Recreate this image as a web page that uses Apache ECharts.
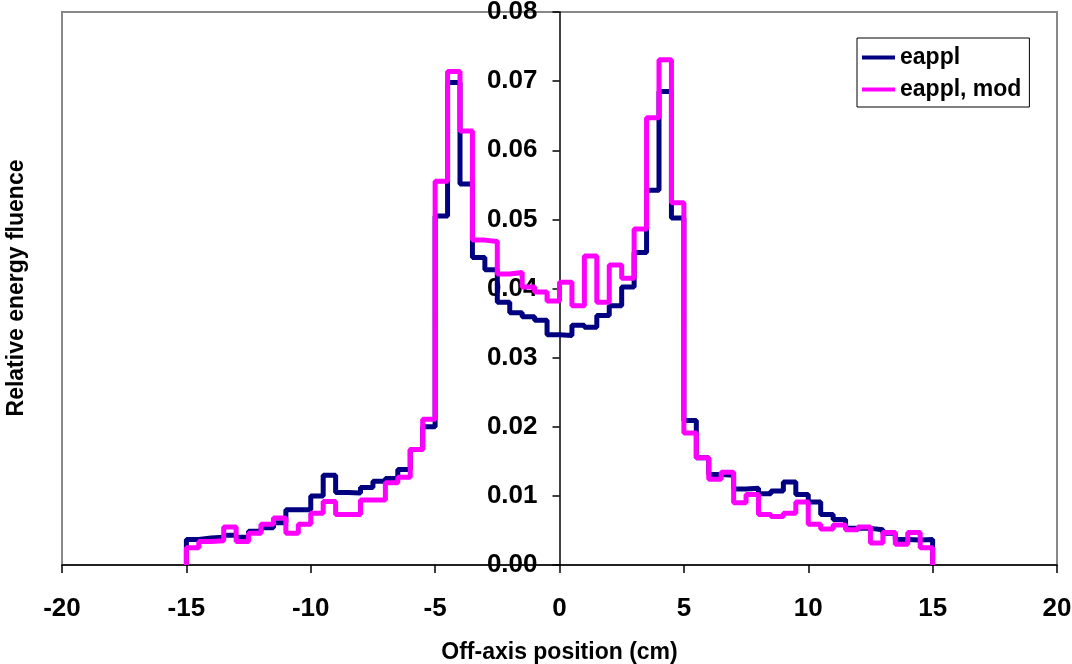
<!DOCTYPE html>
<html>
<head>
<meta charset="utf-8">
<script src="https://cdn.jsdelivr.net/npm/echarts@6/dist/echarts.min.js"></script>
<style>
  html, body { margin: 0; padding: 0; background: #fff; }
  #chart { width: 1072px; height: 664px; }
</style>
</head>
<body>
<div id="chart"></div>
<script>
// Bin edges (cm)
const binEdges = [-15, -14.5, -14, -13.5, -13, -12.5, -12, -11.5, -11, -10.5,
  -10, -9.5, -9, -8.5, -8, -7.5, -7, -6.5, -6, -5.5,
  -5, -4.5, -4, -3.5, -3, -2.5, -2, -1.5, -1, -0.5,
  0, 0.5, 1, 1.5, 2, 2.5, 3, 3.5, 4, 4.5,
  5, 5.5, 6, 6.5, 7, 7.5, 8, 8.5, 9, 9.5,
  10, 10.5, 11, 11.5, 12, 12.5, 13, 13.5, 14, 14.5, 15];

// Relative energy fluence per bin
const eappl = [0.0037, 0.0039, 0.0040, 0.0043, 0.0040, 0.0049, 0.0054, 0.0061, 0.0080, 0.0080,
  0.0100, 0.0130, 0.0105, 0.0104, 0.0112, 0.0121, 0.0125, 0.0138, 0.0167, 0.0200,
  0.0505, 0.0698, 0.0551, 0.0445, 0.0427, 0.0380, 0.0365, 0.0359, 0.0354, 0.0333,
  0.0332, 0.0347, 0.0344, 0.0361, 0.0375, 0.0402, 0.0452, 0.0542, 0.0685, 0.0502,
  0.0209, 0.0155, 0.0131, 0.0130, 0.0110, 0.0111, 0.0103, 0.0107, 0.0120, 0.0102,
  0.0091, 0.0073, 0.0066, 0.0053, 0.0053, 0.0051, 0.0046, 0.0037, 0.0036, 0.0037];

const eapplMod = [0.0025, 0.0034, 0.0035, 0.0055, 0.0034, 0.0046, 0.0059, 0.0068, 0.0046, 0.0059,
  0.0075, 0.0092, 0.0073, 0.0073, 0.0094, 0.0094, 0.0119, 0.0127, 0.0167, 0.0211,
  0.0555, 0.0714, 0.0628, 0.0470, 0.0468, 0.0421, 0.0423, 0.0402, 0.0395, 0.0382,
  0.0409, 0.0375, 0.0447, 0.0380, 0.0434, 0.0415, 0.0486, 0.0647, 0.0731, 0.0524,
  0.0191, 0.0155, 0.0124, 0.0134, 0.0090, 0.0102, 0.0073, 0.0070, 0.0075, 0.0091,
  0.0059, 0.0052, 0.0058, 0.0051, 0.0055, 0.0032, 0.0047, 0.0030, 0.0047, 0.0025];

const seriesNames = ['eappl', 'eappl, mod'];
const seriesColors = ['#000080', '#FF00FF'];

function stepData(values) {
  const n = values.length;
  const d = [[binEdges[0], 0]];
  for (let i = 0; i < n; i++) d.push([binEdges[i], values[i]]);
  d.push([binEdges[n], values[n - 1]]);
  d.push([binEdges[n], 0]);
  return d;
}

const FONT = "'Liberation Sans', Arial, sans-serif";
const GRID_LEFT = 62, GRID_RIGHT = 15;
const X_MIN = -20, X_MAX = 20;
const gridWidth = 1072 - GRID_LEFT - GRID_RIGHT;
// y axis sits at x = 0: shift it inward from the grid's left edge
const yAxisOffset = -gridWidth * (0 - X_MIN) / (X_MAX - X_MIN);

const chart = echarts.init(document.getElementById('chart'), null, { renderer: 'canvas' });

chart.setOption({
  animation: false,
  backgroundColor: '#ffffff',
  grid: {
    left: GRID_LEFT, right: GRID_RIGHT, top: 12, bottom: 99,
    outerBoundsMode: 'none',
    containLabel: false,
    show: true, borderColor: '#888888', borderWidth: 2, backgroundColor: 'transparent'
  },
  legend: {
    orient: 'vertical',
    left: 857, top: 38,
    padding: [8, 8, 6, 5],
    itemGap: 9,
    itemWidth: 33, itemHeight: 4,
    icon: 'rect',
    borderColor: '#000', borderWidth: 1,
    backgroundColor: '#fff',
    textStyle: { fontFamily: FONT, fontWeight: 'bold', fontSize: 23, color: '#000' },
    data: seriesNames
  },
  xAxis: {
    type: 'value', min: X_MIN, max: X_MAX, interval: 5,
    name: 'Off-axis position (cm)', nameLocation: 'middle', nameGap: 76,
    nameTextStyle: { fontFamily: FONT, fontWeight: 'bold', fontSize: 23, color: '#000' },
    axisLine: { show: true, onZero: false, lineStyle: { color: '#000', width: 1.5 } },
    axisTick: { show: true, length: 8, lineStyle: { color: '#000', width: 1.5 } },
    axisLabel: { margin: 31, fontFamily: FONT, fontWeight: 'bold', fontSize: 26, color: '#000' },
    splitLine: { show: false }
  },
  yAxis: {
    type: 'value', min: 0, max: 0.08, interval: 0.01,
    position: 'left',
    offset: yAxisOffset,
    axisLine: { show: true, onZero: false, lineStyle: { color: '#000', width: 1.5 } },
    axisTick: { show: true, length: 7, lineStyle: { color: '#000', width: 1.5 } },
    axisLabel: { margin: 22, fontFamily: FONT, fontWeight: 'bold', fontSize: 26, color: '#000',
      formatter: v => v.toFixed(2) },
    splitLine: { show: false }
  },
  graphic: [{
    type: 'text',
    x: 17, y: 288,
    rotation: Math.PI / 2,
    style: {
      text: 'Relative energy fluence',
      fontFamily: FONT, fontWeight: 'bold', fontSize: 23, fill: '#000',
      textAlign: 'center', textVerticalAlign: 'middle'
    }
  }],
  series: [
    {
      name: seriesNames[0], type: 'line', step: 'end', showSymbol: false, symbol: 'none',
      data: stepData(eappl), color: seriesColors[0],
      lineStyle: { color: seriesColors[0], width: 5 }, z: 2
    },
    {
      name: seriesNames[1], type: 'line', step: 'end', showSymbol: false, symbol: 'none',
      data: stepData(eapplMod), color: seriesColors[1],
      lineStyle: { color: seriesColors[1], width: 5 }, z: 3
    }
  ]
});
</script>
</body>
</html>
